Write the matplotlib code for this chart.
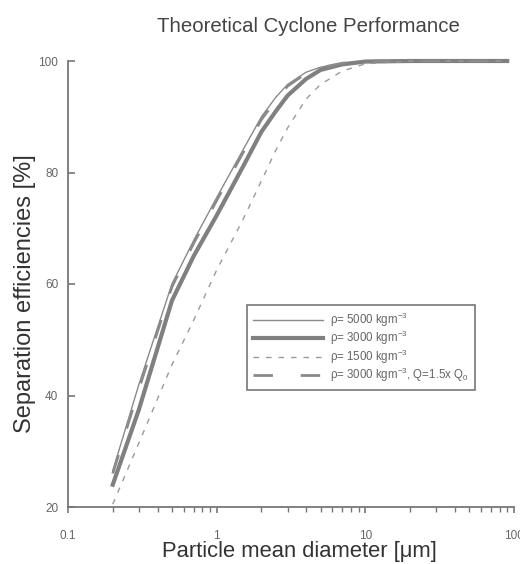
import numpy as np
import matplotlib
matplotlib.use("Agg")
import matplotlib.pyplot as plt

plt.rcParams['font.family'] = ['Liberation Sans', 'DejaVu Sans']
plt.rcParams['mathtext.fontset'] = 'custom'
plt.rcParams['mathtext.rm'] = 'Liberation Sans'
plt.rcParams['mathtext.it'] = 'Liberation Sans'

# particle diameter [um]
diam = [0.2, 0.3, 0.5, 0.7, 1.0, 1.5, 2.0, 2.5, 3.0, 4.0, 5.0, 7.0, 10.0, 20.0, 50.0, 90.0]
# separation efficiencies [%]
eff_5000 = [26.5, 42.0, 60.0, 67.8, 75.5, 84.0, 90.0, 93.5, 95.8, 98.0, 98.9, 99.6, 100.0, 100.0, 100.0, 100.0]
eff_3000 = [24.0, 37.5, 57.0, 65.0, 72.3, 81.0, 87.3, 91.0, 93.8, 96.8, 98.4, 99.4, 99.9, 100.0, 100.0, 100.0]
eff_1500 = [20.5, 31.5, 45.5, 53.5, 62.5, 71.5, 78.5, 84.0, 88.0, 93.2, 95.8, 98.2, 99.5, 100.0, 100.0, 100.0]
eff_q15 = [26.0, 41.2, 59.5, 67.3, 75.0, 83.5, 89.5, 93.0, 95.5, 97.8, 98.8, 99.6, 100.0, 100.0, 100.0, 100.0]

labels = [r'ρ= 5000 kgm$^{-3}$', r'ρ= 3000 kgm$^{-3}$', r'ρ= 1500 kgm$^{-3}$',
          r'ρ= 3000 kgm$^{-3}$, Q=1.5x Q$_0$']

fig = plt.figure(figsize=(5.2, 5.64), dpi=100)
ax = fig.add_axes([68/520, 57/564, 446/520, 446/564])

ax.plot(diam, eff_5000, color='#8a8a8a', lw=1.0, label=labels[0], clip_on=False)
ax.plot(diam, eff_3000, color='#808080', lw=3.0, label=labels[1], clip_on=False)
ax.plot(diam, eff_1500, color='#9a9a9a', lw=1.0, dashes=(4, 5), label=labels[2], clip_on=False)
ax.plot(diam, eff_q15, color='#8a8a8a', lw=2.0, dashes=(7, 10), label=labels[3], clip_on=False)

ax.set_xscale('log')
ax.set_xlim(0.1, 100)
ax.set_ylim(20, 100)
ax.set_xticks([0.1, 1, 10, 100])
ax.set_xticklabels(['0.1', '1', '10', '100'])
ax.set_yticks([20, 40, 60, 80, 100])

for s in ['top', 'right']:
    ax.spines[s].set_visible(False)
for s in ['left', 'bottom']:
    ax.spines[s].set_color('#777777')
    ax.spines[s].set_linewidth(1.3)

ax.tick_params(axis='x', which='major', direction='out', length=4.5, width=1.2,
               color='#777777', labelcolor='#666666', labelsize=8.5, pad=12)
ax.tick_params(axis='x', which='minor', direction='out', length=3.5, width=1.0,
               color='#777777')
ax.tick_params(axis='y', which='major', direction='in', length=5, width=1.2,
               color='#777777', labelcolor='#666666', labelsize=8.5, pad=7)

ax.set_xlabel('Particle mean diameter [μm]', fontsize=15.8, color='#333333')
ax.xaxis.label.set_va('baseline')
ax.xaxis.set_label_coords(0.52, (507 - 557) / 446)
ax.set_ylabel('Separation efficiencies [%]', fontsize=17, color='#333333')
ax.yaxis.label.set_va('center')
ax.yaxis.set_label_coords((25 - 68) / 446, 0.479)
fig.text(308/520, 1 - 27/564, 'Theoretical Cyclone Performance', ha='center', va='center',
         fontsize=14.7, color='#444444')

leg = ax.legend(loc='upper left', bbox_to_anchor=(0.402, 0.453), borderaxespad=0,
                fontsize=8.3, handlelength=6.1, labelspacing=0.02, fancybox=False,
                framealpha=1, edgecolor='#777777', borderpad=0.5, handletextpad=0.6)
leg.get_frame().set_linewidth(1.2)
for t in leg.get_texts():
    t.set_color('#666666')

fig.savefig('out.png', dpi=100)
